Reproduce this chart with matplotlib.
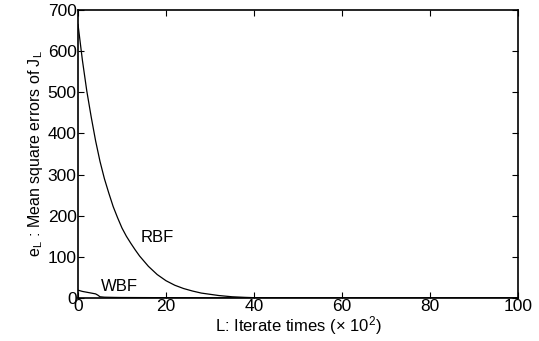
import matplotlib
matplotlib.use('Agg')
import matplotlib.pyplot as plt

plt.rcParams['font.family'] = ['Liberation Sans', 'DejaVu Sans']
plt.rcParams['mathtext.fontset'] = 'custom'
plt.rcParams['mathtext.rm'] = 'Liberation Sans'
plt.rcParams['mathtext.it'] = 'Liberation Sans'

# values (x in units of 10^2 iterations)
rbf_x = [0, 1, 2, 3, 4, 5, 6, 7, 8, 9, 10, 11, 12, 13, 14, 16, 18, 20, 22, 24,
         26, 28, 30, 32, 35, 38, 40, 45, 50, 60, 70, 80, 90, 100]
rbf_y = [665, 578, 503, 440, 382, 332, 290, 255, 222, 195, 170, 150, 133, 117,
         102, 77, 57, 42, 31, 23, 17, 12, 9, 6, 3, 1.5, 0.8, 0.3, 0.1, 0, 0, 0,
         0, 0]

wbf_x = [0, 1, 2, 3, 4, 4.5, 5, 6, 8, 10, 20, 30, 40, 60, 80, 100]
wbf_y = [19, 16, 14, 12, 10, 7, 3, 2, 1.5, 1.2, 0.8, 0.4, 0.2, 0, 0, 0]

fig = plt.figure(figsize=(5.39, 3.41), dpi=100)
ax = fig.add_axes([78/539, 43/341, 440/539, 288/341])

ax.plot(rbf_x, rbf_y, color='black', linewidth=0.9)
ax.plot(wbf_x, wbf_y, color='black', linewidth=0.9)

ax.text(18, 148, 'RBF', fontsize=12, ha='center', va='center')
ax.text(9.5, 29, 'WBF', fontsize=12, ha='center', va='center')

ax.set_xlim(0, 100)
ax.set_ylim(0, 700)
ax.set_xticks(range(0, 101, 20))
ax.set_yticks(range(0, 701, 100))
ax.tick_params(direction='in', top=True, right=True, labelsize=12.5,
               length=4, width=0.8, pad=1)
for s in ax.spines.values():
    s.set_linewidth(1.2)

ax.set_xlabel(r'L: Iterate times ($\times$ 10$^2$)', fontsize=12, labelpad=0)
ax.set_ylabel(r'e$_L$ : Mean square errors of J$_L$', fontsize=11.5, labelpad=2)

fig.savefig('out.png', dpi=100)
